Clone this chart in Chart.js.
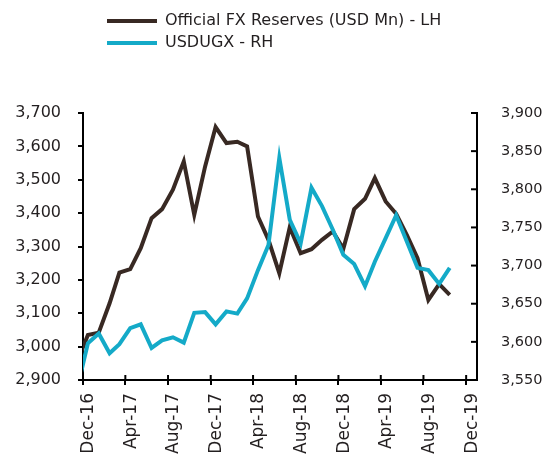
<!DOCTYPE html>
<html><head><meta charset="utf-8">
<script src="https://cdn.jsdelivr.net/npm/chart.js@4.4.0/dist/chart.umd.min.js"></script>
<style>html,body{margin:0;padding:0;background:#fff;overflow:hidden}#wrap{width:547px;height:455px}</style>
</head><body><div id="wrap"><canvas id="c" width="547" height="455"></canvas></div>
<script>
// ---- data ----
const months = ['2016-11','2016-12','2017-01','2017-02','2017-03','2017-04','2017-05','2017-06','2017-07','2017-08','2017-09','2017-10','2017-11','2017-12',
  '2018-01','2018-02','2018-03','2018-04','2018-05','2018-06','2018-07','2018-08','2018-09','2018-10','2018-11','2018-12',
  '2019-01','2019-02','2019-03','2019-04','2019-05','2019-06','2019-07','2019-08','2019-09','2019-10'];
const reserves = [2957,3035,3042,3130,3222,3232,3295,3385,3412,3470,3555,3395,3540,3658,
  3610,3614,3600,3390,3320,3220,3358,3280,3292,3320,3345,3293,
  3412,3443,3505,3435,3398,3333,3265,3140,3187,3155];
const usdugx = [3540,3598,3611,3585,3597,3618,3623,3592,3602,3606,3599,3638,3639,3623,
  3640,3637,3657,3694,3727,3841,3760,3729,3802,3778,3747,3714,
  3702,3673,3705,3736,3766,3731,3697,3694,3676,3697];
const tickDates = ['2016-12-01','2017-04-01','2017-08-01','2017-12-01','2018-04-01','2018-08-01','2018-12-01','2019-04-01','2019-08-01','2019-12-01'];
const tickLabels = ['Dec-16','Apr-17','Aug-17','Dec-17','Apr-18','Aug-18','Dec-18','Apr-19','Aug-19','Dec-19'];
const axisStart = '2016-12-01';
const axisEnd = '2020-01-01';
const seriesNames = ['Official FX Reserves (USD Mn) - LH','USDUGX - RH'];
const leftRange = [2900, 3700, 100];
const rightRange = [3550, 3900, 50];

function dayNum(s){const p=s.split('-').map(Number);return Date.UTC(p[0],p[1]-1,p[2]||15)/86400000;}
const fmt = v => Number(v).toLocaleString('en-US');
const FONT = 'DejaVu Sans';
const TXT = '#231f20';

const crossTicks = {
  id: 'crossTicks',
  afterLayout(chart){
    const lg = chart.legend;
    if (lg) { lg.top = 7; lg.left = 101; }
  },
  afterDatasetsDraw(chart){
    const {ctx, chartArea, scales} = chart;
    ctx.save();
    ctx.strokeStyle = '#000'; ctx.lineWidth = 2;
    scales.x.ticks.forEach(t => {
      const px = scales.x.getPixelForValue(t.value);
      ctx.beginPath(); ctx.moveTo(px, chartArea.bottom - 5); ctx.lineTo(px, chartArea.bottom); ctx.stroke();
    });
    scales.y1.ticks.forEach(t => {
      const py = scales.y1.getPixelForValue(t.value);
      ctx.beginPath(); ctx.moveTo(chartArea.right - 6, py); ctx.lineTo(chartArea.right, py); ctx.stroke();
    });
    ctx.restore();
  }
};

new Chart(document.getElementById('c'), {
  type: 'line',
  data: {
    datasets: [
      {label: seriesNames[0], data: reserves.map((v,i)=>({x: dayNum(months[i]), y: v})), yAxisID: 'y',
       borderColor: '#382923', borderWidth: 4, pointRadius: 0, tension: 0, borderJoinStyle: 'miter', clip: 0, order: 1},
      {label: seriesNames[1], data: usdugx.map((v,i)=>({x: dayNum(months[i]), y: v})), yAxisID: 'y1',
       borderColor: '#14aac8', borderWidth: 4, pointRadius: 0, tension: 0, borderJoinStyle: 'miter', clip: 0, order: 0}
    ]
  },
  options: {
    responsive: false, animation: false, devicePixelRatio: 1,
    layout: {padding: {top: 59, left: 0, right: 0, bottom: 0}},
    plugins: {
      legend: {
        position: 'top', align: 'start', fullSize: false,
        labels: {
          boxWidth: 50, boxHeight: 4, padding: 6, color: TXT, font: {family: FONT, size: 16},
          generateLabels(chart){
            return chart.data.datasets.map((ds,i)=>({text: ds.label, fillStyle: ds.borderColor, strokeStyle: ds.borderColor,
              lineWidth: 0, hidden: false, datasetIndex: i, fontColor: TXT}));
          }
        }
      },
      tooltip: {enabled: false}
    },
    scales: {
      x: {
        type: 'linear', position: 'bottom', min: dayNum(axisStart), max: dayNum(axisEnd),
        afterBuildTicks(scale){ scale.ticks = tickDates.map(d => ({value: dayNum(d)})); },
        afterFit(scale){ scale.height = 75; },
        ticks: {autoSkip: false, minRotation: 90, maxRotation: 90, padding: 8, labelOffset: 6, color: TXT,
          font: {family: FONT, size: 17}, callback(v, i){ return tickLabels[i]; }},
        grid: {drawOnChartArea: false, drawTicks: true, tickLength: 5, color: '#000', lineWidth: 2},
        border: {display: true, color: '#000', width: 2}
      },
      y: {
        position: 'left', min: leftRange[0], max: leftRange[1],
        afterFit(scale){ scale.width = 83; },
        ticks: {stepSize: leftRange[2], padding: 17, color: TXT, font: {family: FONT, size: 16}, callback: v => fmt(v)},
        grid: {drawOnChartArea: false, drawTicks: true, tickLength: 5, color: '#000', lineWidth: 2},
        border: {display: true, color: '#000', width: 2}
      },
      y1: {
        position: 'right', min: rightRange[0], max: rightRange[1],
        afterFit(scale){ scale.width = 70; },
        ticks: {stepSize: rightRange[2], padding: 24, color: TXT, font: {family: FONT, size: 14.5}, callback: v => fmt(v)},
        grid: {drawOnChartArea: false, drawTicks: false},
        border: {display: true, color: '#000', width: 2}
      }
    }
  },
  plugins: [crossTicks]
});
</script>
</body></html>
